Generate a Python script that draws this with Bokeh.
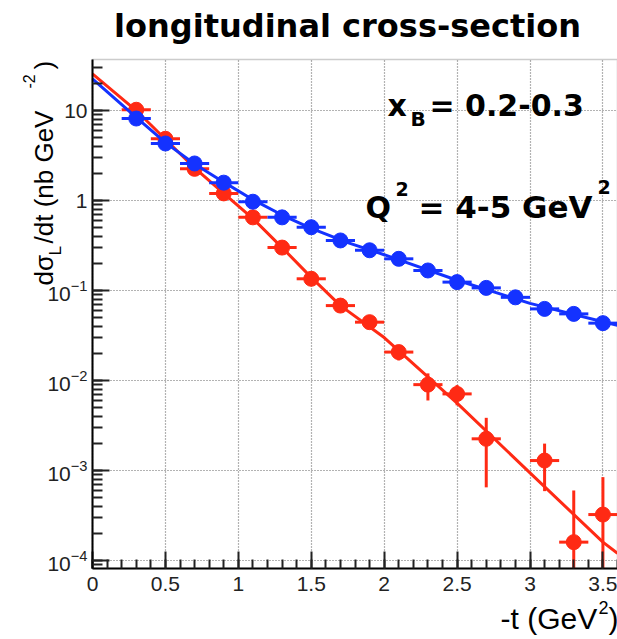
import math
from bokeh.plotting import figure
from bokeh.models import (Label, LogTicker, LogTickFormatter, SingleIntervalTicker,
                          CustomJSTickFormatter, Range1d, BoxAnnotation, Grid)
from bokeh.embed import file_html
from bokeh.resources import INLINE

# ---------------- data ----------------
t_blue = [0.3, 0.5, 0.7, 0.9, 1.1, 1.3, 1.5, 1.7, 1.9, 2.1, 2.3, 2.5, 2.7, 2.9, 3.1, 3.3, 3.5]
sig_blue = [8.15, 4.3, 2.58, 1.58, 0.97, 0.65, 0.505, 0.36, 0.28, 0.225, 0.167, 0.124,
            0.107, 0.084, 0.0625, 0.055, 0.0434]
err_blue = [0.25, 0.13, 0.08, 0.05, 0.03, 0.02, 0.016, 0.012, 0.01, 0.009, 0.007, 0.006,
            0.005, 0.005, 0.004, 0.004, 0.006]

t_red = [0.3, 0.5, 0.7, 0.9, 1.1, 1.3, 1.5, 1.7, 1.9, 2.1, 2.3, 2.5, 2.7, 3.1, 3.3, 3.5]
sig_red = [10.2, 4.85, 2.25, 1.2, 0.65, 0.30, 0.135, 0.068, 0.0445, 0.0207, 0.0090,
           0.0071, 0.00225, 0.00129, 0.00016, 0.000324]
err_red = [0.5, 0.25, 0.12, 0.07, 0.035, 0.018, 0.009, 0.006, 0.005, 0.004, 0.003,
           0.0018, 0.0016, 0.0007, 0.00044, 0.00052]

bin_half_width = 0.1

fit_t_red = [0.0, 0.3, 0.5, 0.7, 0.9, 1.1, 1.3, 1.5, 1.7, 2.0, 2.5, 3.0, 3.5, 3.6]
fit_red = [25.5, 10.0, 4.8, 2.3, 1.2, 0.63, 0.30, 0.14, 0.068, 0.030, 0.0056, 0.00094,
           0.00016, 0.00012]

fit_t_blue = [0.0, 0.3, 0.5, 0.7, 0.9, 1.1, 1.3, 1.5, 1.75, 2.0, 2.5, 3.0, 3.5, 3.6]
fit_blue = [22.5, 8.4, 4.4, 2.55, 1.6, 1.02, 0.69, 0.49, 0.34, 0.25, 0.13, 0.072, 0.045, 0.041]

x_ticks = [0.0, 0.5, 1.0, 1.5, 2.0, 2.5, 3.0, 3.5]
x_tick_labels = ["0", "0.5", "1", "1.5", "2", "2.5", "3", "3.5"]
y_decades = [1e-4, 1e-3, 1e-2, 1e-1, 1, 10]
y_plain_ticks = [10, 1]
y_plain_labels = ["10", "1"]

x_lo, x_hi = 0.0, 3.6          # axis extent
y_lo, y_hi = 8.15e-5, 36.9     # axis extent

RED = "#ff2a14"
BLUE = "#1432ff"

# ---------------- layout ----------------
W, H = 617, 639
FL, FR, FT, FB = 92, 617, 59, 568   # axis box edges (canvas px)

# the plotting frame spans the whole canvas; axes sit at fixed locations
pxu = (FR - FL) / (x_hi - x_lo)
lt, lb = math.log10(y_hi), math.log10(y_lo)
ppd = (FB - FT) / (lt - lb)
x_range = Range1d(x_lo - FL / pxu, x_hi + (W - FR) / pxu)
y_range = Range1d(10 ** (lb - (H - FB) / ppd), 10 ** (lt + FT / ppd))

p = figure(width=W, height=H, x_range=x_range, y_range=y_range,
           y_axis_type="log", output_backend="svg", toolbar_location=None,
           min_border=0, min_border_left=0, min_border_right=0,
           min_border_top=0, min_border_bottom=0)
p.title.visible = False
p.background_fill_color = "white"
p.border_fill_color = "white"
p.outline_line_color = None

xa = p.xaxis[0]
ya = p.yaxis[0]
xa.fixed_location = y_lo
ya.fixed_location = x_lo
xa.bounds = (x_lo, x_hi)
ya.bounds = (y_lo, y_hi)
xa.ticker = SingleIntervalTicker(interval=0.5, num_minor_ticks=5)
xa.formatter = CustomJSTickFormatter(code="return String(tick)")
xa.major_label_overrides = {float(k): v for k, v in zip(x_ticks, x_tick_labels)}
ya.ticker = LogTicker(num_minor_ticks=10)
ya.formatter = LogTickFormatter(min_exponent=0)
ya.major_label_overrides = {k: v for k, v in zip(y_plain_ticks, y_plain_labels)}

for ax in (xa, ya):
    ax.axis_line_color = "black"
    ax.axis_line_width = 2
    ax.major_tick_in = 17
    ax.major_tick_out = 0
    ax.minor_tick_in = 9
    ax.minor_tick_out = 0
    ax.major_tick_line_color = "#222222"
    ax.minor_tick_line_color = "#222222"
    ax.major_tick_line_width = 2
    ax.minor_tick_line_width = 2
    ax.major_label_text_font = "Liberation Sans"
    ax.major_label_text_font_size = "21px"
    ax.major_label_text_color = "#222222"
xa.major_label_standoff = 8
ya.major_label_standoff = 5
ya.minor_tick_in = 10

GRID_COLOR = "#666666"
have_cross = "cross_bounds" in Grid.properties()
if have_cross:
    p.xgrid[0].bounds = (x_lo, x_hi)
    p.xgrid[0].cross_bounds = (y_lo, y_hi)
    p.ygrid[0].bounds = (y_lo, y_hi)
    p.ygrid[0].cross_bounds = (x_lo, x_hi)
    for g in (p.xgrid[0], p.ygrid[0]):
        g.grid_line_color = GRID_COLOR
        g.grid_line_dash = "1 2"
        g.grid_line_width = 1.2
else:
    for g in (p.xgrid[0], p.ygrid[0]):
        g.grid_line_color = None
    gx = x_ticks[1:]
    p.segment(x0=gx, y0=[y_lo] * len(gx), x1=gx, y1=[y_hi] * len(gx),
              line_color=GRID_COLOR, line_dash="1 2", line_width=1.2)
    p.segment(x0=[x_lo] * len(y_decades), y0=y_decades, x1=[x_hi] * len(y_decades),
              y1=y_decades, line_color=GRID_COLOR, line_dash="1 2", line_width=1.2)

# frame box (top/right edges)
p.add_layout(BoxAnnotation(left=x_lo, right=x_hi, bottom=y_lo, top=y_hi,
                           fill_alpha=0, line_color="#555555", line_width=1.5,
                           level="underlay"))

# ---------------- glyphs ----------------
def series(ts, ys, es, fts, fys, col):
    p.line(fts, fys, line_color=col, line_width=3)
    p.segment(x0=[t - bin_half_width for t in ts], y0=ys,
              x1=[t + bin_half_width for t in ts], y1=ys, line_color=col, line_width=3)
    p.segment(x0=ts, y0=[max(y - e, y_lo) for y, e in zip(ys, es)],
              x1=ts, y1=[y + e for y, e in zip(ys, es)], line_color=col, line_width=3)
    p.scatter(ts, ys, size=15, fill_color=col, line_color=col, marker="circle")

series(t_red, sig_red, err_red, fit_t_red, fit_red, RED)
series(t_blue, sig_blue, err_blue, fit_t_blue, fit_blue, BLUE)

# ---------------- texts ----------------
# (cx, cy) is the start of the text baseline in canvas pixels; the label is
# anchored at the middle of its text box, which sits 0.35*size above the baseline.
def put(text, cx, cy, size, bold=False, font="Liberation Sans", rotated=False, align="left"):
    shift = 0.35 * size
    if rotated:
        ax_, ay_, ang = cx - shift, cy, math.pi / 2
    else:
        ax_, ay_, ang = cx, cy - shift, 0.0
    p.add_layout(Label(x=ax_, y=H - ay_, x_units="screen", y_units="screen",
                       text=text, text_font=font, text_font_size=f"{size}px",
                       text_font_style="bold" if bold else "normal", angle=ang,
                       text_align=align, text_baseline="middle", text_color="black"))

# title
put("longitudinal cross-section", 347, 37, 32, bold=True, font="DejaVu Sans", align="center")
# x_B annotation
put("x", 387, 115, 30, bold=True, font="DejaVu Sans")
put("B", 410, 125, 20, bold=True, font="DejaVu Sans")
put("= 0.2-0.3", 429, 115, 30, bold=True, font="DejaVu Sans")
# Q^2 annotation
put("Q", 365, 217, 30, bold=True, font="DejaVu Sans")
put("2", 395, 195, 19, bold=True, font="DejaVu Sans")
put("= 4-5 GeV", 418, 217, 31, bold=True, font="DejaVu Sans")
put("2", 597, 193, 19, bold=True, font="DejaVu Sans")
# x axis title
put("-t (GeV", 500, 628, 30)
put("2", 598, 613, 18)
put(")", 608, 628, 30)
# y axis title (rotated, reading upwards)
put("dσ", 53, 285, 26, rotated=True)
put("L", 61, 255, 17, rotated=True)
put("/dt (nb GeV", 53, 243, 26, rotated=True)
put("-2", 34, 88, 16, rotated=True)
put(")", 53, 69, 26, rotated=True)

open("out.html", "w").write(file_html(p, INLINE))
